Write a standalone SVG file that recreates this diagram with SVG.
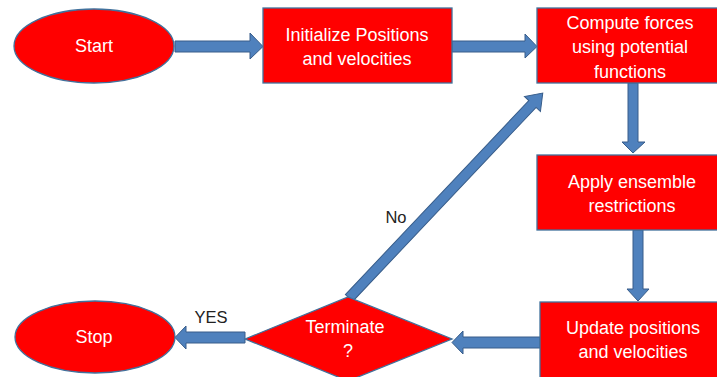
<svg xmlns="http://www.w3.org/2000/svg" width="717" height="377" viewBox="0 0 717 377">
<style>
.node{fill:#FF0000;stroke:#41719C;stroke-width:1.3}
.arr{fill:#4F81BD;stroke:#385D8A;stroke-width:1}
.t{font-family:"Liberation Sans",Arial,sans-serif;font-size:18px;fill:#FFFFFF;text-anchor:middle}
.lbl{font-family:"Liberation Sans",Arial,sans-serif;font-size:16.5px;fill:#222222;text-anchor:middle}
</style>
<rect width="717" height="377" fill="#FFFFFF"/>
<g id="connectors">
<polygon class="arr" points="175,41 250,41 250,33 263,46.5 250,59 250,52 175,52"/>
<polygon class="arr" points="452,41 525,41 525,34 537,46.5 525,58 525,52 452,52"/>
<polygon class="arr" points="628,83 638,83 638,142 645,142 633,153 622,142 628,142"/>
<polygon class="arr" points="633,230 643,230 643,289 649,289 638,301 627,289 633,289"/>
<polygon class="arr" points="540,337 463,337 463,331 452,342.5 463,354 463,348 540,348"/>
<polygon class="arr" points="245,332 186,332 186,326 175,337.5 186,349 186,343 245,343"/>
<polygon class="arr" transform="translate(349,298) rotate(-46.6)" points="0,-5 267,-5 267,-11 282,0 267,11 267,5 0,5"/>
<text class="lbl" x="211" y="323">YES</text>
<text class="lbl" x="396" y="223">No</text>
</g>
<g id="start">
<ellipse class="node" cx="94" cy="46" rx="80" ry="37"/>
<text class="t" x="94" y="52">Start</text>
</g>
<g id="init">
<rect class="node" x="263" y="8" width="189" height="75"/>
<text class="t" x="357" y="41">Initialize Positions</text>
<text class="t" x="357" y="65">and velocities</text>
</g>
<g id="compute">
<rect class="node" x="537" y="8" width="182" height="75"/>
<text class="t" x="630" y="29">Compute forces</text>
<text class="t" x="630" y="53">using potential</text>
<text class="t" x="630" y="78">functions</text>
</g>
<g id="apply">
<rect class="node" x="537" y="155" width="182" height="75"/>
<text class="t" x="632" y="188">Apply ensemble</text>
<text class="t" x="632" y="212">restrictions</text>
</g>
<g id="update">
<rect class="node" x="540" y="302" width="179" height="77"/>
<text class="t" x="633" y="334">Update positions</text>
<text class="t" x="633" y="358">and velocities</text>
</g>
<g id="terminate">
<polygon class="node" points="245,339 348,297 452,339 348,381"/>
<text class="t" x="345" y="333">Terminate</text>
<text class="t" x="348" y="357">?</text>
</g>
<g id="stop">
<ellipse class="node" cx="95" cy="337" rx="80" ry="36"/>
<text class="t" x="94" y="343">Stop</text>
</g>
</svg>
